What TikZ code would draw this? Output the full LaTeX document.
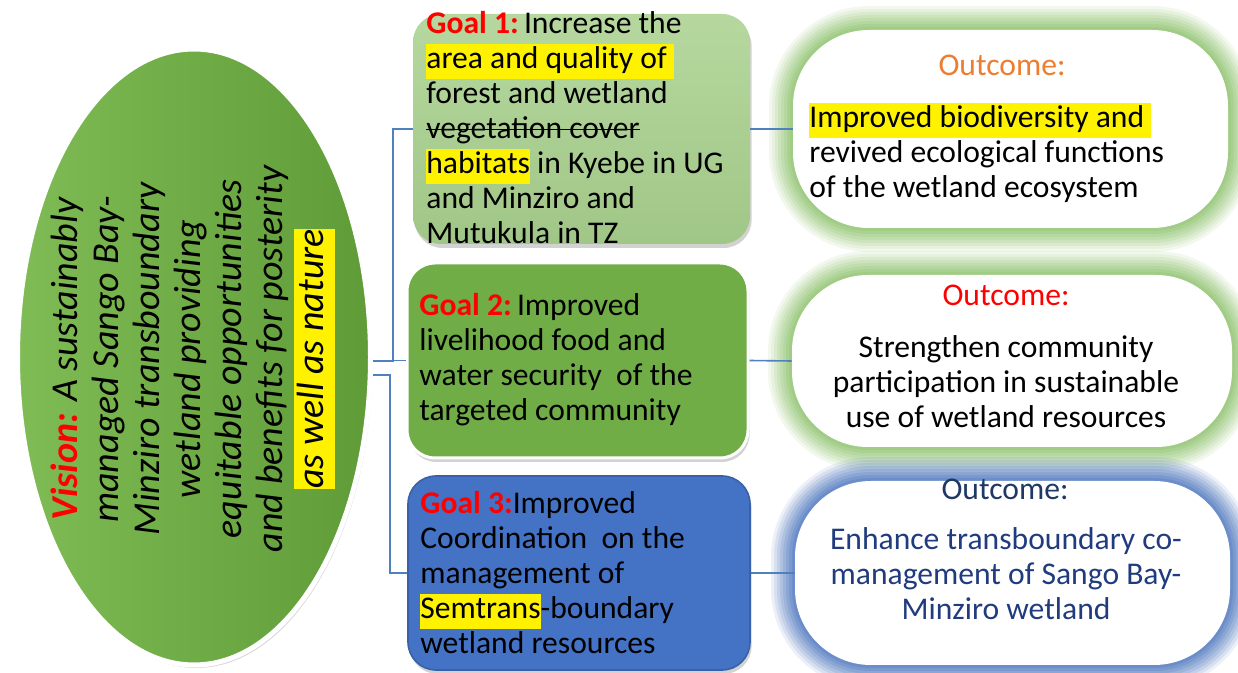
\documentclass[tikz,border=0pt]{standalone}
\usepackage{fontspec}
\setmainfont{Carlito}
\usetikzlibrary{shapes.geometric,shadows}
\definecolor{visionlight}{HTML}{80BC55}
\definecolor{visiondark}{HTML}{5F9B37}
\definecolor{goalone}{HTML}{A9D18E}
\definecolor{goaltwo}{HTML}{70AD47}
\definecolor{goalthree}{HTML}{4472C4}
\definecolor{glowgreen}{HTML}{8CC26A}
\definecolor{glowblue}{HTML}{4A74BE}
\definecolor{connblue}{HTML}{4F81BD}
\definecolor{orangetitle}{HTML}{ED7D31}
\definecolor{navytitle}{HTML}{1F3864}
\definecolor{navytext}{HTML}{203C7E}
\newcommand{\hlt}[1]{{\setlength{\fboxsep}{0pt}\colorbox{yellow}{\strut#1}}}
\newcommand{\goaltag}[1]{\textcolor{red}{\textbf{#1}}}
\newcommand{\strikeout}[1]{\leavevmode\sbox0{#1}\rlap{\rule[0.55ex]{\wd0}{0.6pt}}\usebox0}
\begin{document}
\begin{tikzpicture}[x=0.5pt,y=-0.5pt,
    txt/.style={font=\fontsize{15.8}{17.5}\selectfont, inner sep=0pt, align=left},
    goalbox/.style={rounded corners=14pt, inner sep=0pt,
        drop shadow={shadow xshift=0.8pt, shadow yshift=-2pt, opacity=0.35}},
    outbox/.style={fill=white, rounded corners=38pt, inner sep=0pt,
        preaction={draw=#1, line width=24pt, draw opacity=0.1},
        preaction={draw=#1, line width=21pt, draw opacity=0.12},
        preaction={draw=#1, line width=18pt, draw opacity=0.14},
        preaction={draw=#1, line width=15pt, draw opacity=0.16},
        preaction={draw=#1, line width=12pt, draw opacity=0.18},
        preaction={draw=#1, line width=9pt, draw opacity=0.2},
        preaction={draw=#1, line width=6pt, draw opacity=0.25},
        preaction={draw=#1, line width=3pt, draw opacity=0.3}},
    conn/.style={draw=connblue, line width=0.8pt}
]
\fill[white] (0,0) rectangle (1238,673);
\useasboundingbox (0,0) rectangle (1238,673);

\node[outbox=glowgreen, minimum width=217.5pt, minimum height=99pt] (out1) at (1010.5,129) {};
\node[outbox=glowgreen, minimum width=220pt, minimum height=86pt] (out2) at (1012,361) {};
\node[outbox=glowblue, minimum width=217.5pt, minimum height=92pt] (out3) at (1012.5,573) {};

\node[goalbox, top color=goalone!85!white, bottom color=goalone!95!black,
    minimum width=168.5pt, minimum height=115pt] (goal1) at (581.5,129) {};
\node[goalbox, fill=goaltwo, draw=white, line width=1.5pt,
    minimum width=170.5pt, minimum height=97.5pt] (goal2) at (577.5,360.5) {};
\node[goalbox, fill=goalthree, draw=goalthree!85!black, line width=0.8pt,
    minimum width=171pt, minimum height=97pt] (goal3) at (579,573) {};

\node[ellipse, draw=white, line width=2.5pt, left color=visionlight, right color=visiondark,
    minimum width=176.5pt, minimum height=308pt,
    drop shadow={shadow xshift=1pt, shadow yshift=-1.5pt, opacity=0.3}] (vision) at (194,357) {};

\draw[conn] ([yshift=-2pt]vision.east) -- ++(10pt,0) |- (goal1.west);
\draw[conn] ([yshift=-2pt]vision.east) -- ++(10pt,0) |- (goal2.west);
\draw[conn] ([yshift=-9pt]vision.east) -- ++(8.5pt,0) |- (goal3.west);
\draw[conn] (goal1.east) -- (out1.west);
\draw[conn] (goal2.east) -- (out2.west);
\draw[conn] (goal3.east) -- (out3.west);

\node[rotate=90, align=center, inner sep=0pt, font=\fontsize{19}{20.5}\selectfont\itshape] (visiontext) at (193,359)
    {\textcolor{red}{\textbf{Vision:}} A sustainably\\ managed Sango Bay-\\ Minziro transboundary\\ wetland providing\\
     equitable opportunities\\ and benefits for posterity\\ \hlt{as well as nature}};

\node[txt, anchor=north west] (goal1text) at (426,11)
    {\goaltag{Goal 1:}\,Increase the\\ \hlt{area and quality of\ }\\ forest and wetland\\ \strikeout{vegetation cover}\\
     \hlt{habitats} in Kyebe in UG\\ and Minziro and\\ Mutukula in TZ};
\node[txt, anchor=north west] (goal2text) at (419,293)
    {\goaltag{Goal 2:}\,Improved\\ livelihood food and\\ water security\ \ of the\\ targeted community};
\node[txt, anchor=north west] (goal3text) at (420,491)
    {\goaltag{Goal 3:}Improved\\ Coordination\ \ on the\\ management of\\ \hlt{Semtrans}-boundary\\ wetland resources};

\node[txt, anchor=north, text=orangetitle] (out1title) at (1002,55) {Outcome:};
\node[txt, anchor=north west] (out1text) at (809,103)
    {\hlt{Improved biodiversity and\ }\\ revived ecological functions\\ of the wetland ecosystem};
\node[txt, anchor=north, text=red] (out2title) at (1006,285) {Outcome:};
\node[txt, anchor=north, align=center] (out2text) at (1006,335)
    {Strengthen community\\ participation in sustainable\\ use of wetland resources};
\node[txt, anchor=north, text=navytitle] (out3title) at (1005,479) {Outcome:};
\node[txt, anchor=north, align=center, text=navytext] (out3text) at (1006,527)
    {Enhance transboundary co-\\ management of Sango Bay-\\ Minziro wetland};
\end{tikzpicture}
\end{document}
